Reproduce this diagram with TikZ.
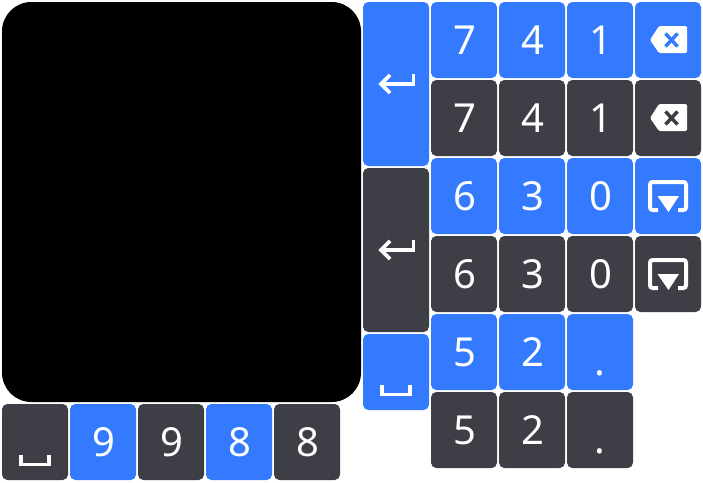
\documentclass[tikz,border=0pt]{standalone}
\usepackage{fontspec}
\setmainfont{Noto Sans}
\definecolor{keyblue}{HTML}{337AFF}
\definecolor{keydark}{HTML}{3D3E46}
\tikzset{
  padkey/.style={minimum width=49.5pt,minimum height=57pt,inner sep=0pt,rounded corners=4pt,text=white,font=\fontsize{30}{30}\selectfont,text height=21.5pt,text depth=0pt,text width=49.5pt,align=center},
  pointkey/.style={padkey,text height=34.5pt},
  tallkey/.style={padkey,minimum height=123pt},
  pics/enterkey/.style={code={
    \draw[white,line width=2.7pt](17.5,-10.5)--(17.5,0)--(-15,0);
    \draw[white,line width=2.7pt](-6,-9)--(-15,0)--(-6,9);
  }},
  pics/spacekey/.style={code={
    \draw[white,line width=2.5pt](-14,13)--(-14,22.5)--(14,22.5)--(14,13);
  }},
  pics/delkey/.style={code={
    \fill[white,rounded corners=1pt](-18,0)--(-9,-14)--(19,-14)--(19,13)--(-9,13)--cycle;
    \draw[#1,line width=2.6pt](-2.5,-6.5)--(9.5,6.5);
    \draw[#1,line width=2.6pt](-2.5,6.5)--(9.5,-6.5);
  }},
  pics/hidekey/.style={code={
    \draw[white,line width=3pt,rounded corners=2pt](-10,14)--(-18,14)--(-18,-14)--(18,-14)--(18,14)--(10,14);
    \fill[white](-10.5,0)--(11,0)--(0.5,16)--cycle;
  }}
}
\begin{document}
\begin{tikzpicture}[x=0.75pt,y=-0.75pt]
\useasboundingbox(0,0)rectangle(703,482);
\node[fill=black,rounded corners=22pt,minimum width=269.25pt,minimum height=300pt,inner sep=0pt](screen)at(181.5,202){};
\foreach \name/\col/\cx/\cy/\lbl in {a/keyblue/464/40/7,b/keyblue/532/40/4,c/keyblue/600/40/1,
  d/keydark/464/118/7,e/keydark/532/118/4,f/keydark/600/118/1,
  g/keyblue/464/196/6,h/keyblue/532/196/3,i/keyblue/600/196/0,
  j/keydark/464/274/6,k/keydark/532/274/3,l/keydark/600/274/0,
  m/keyblue/464/352/5,n/keyblue/532/352/2,
  o/keydark/464/430/5,p/keydark/532/430/2,
  q/keyblue/103/442/9,r/keydark/171/442/9,s/keyblue/239/442/8,t/keydark/307/442/8}
  \node[padkey,fill=\col](key\name)at(\cx,\cy){\hspace{1pt}\lbl};
% the two keys with a point
\node[pointkey,fill=keyblue](pointa)at(600,352){.};
\node[pointkey,fill=keydark](pointb)at(600,430){.};
% keys with a symbol
\node[tallkey,fill=keyblue](entera)at(396,84){};
\node[tallkey,fill=keydark](enterb)at(396,250){};
\node[padkey,fill=keyblue](spacea)at(396,372){};
\node[padkey,fill=keydark](spaceb)at(35,442){};
\node[padkey,fill=keyblue](dela)at(668,40){};
\node[padkey,fill=keydark](delb)at(668,118){};
\node[padkey,fill=keyblue](hidea)at(668,196){};
\node[padkey,fill=keydark](hideb)at(668,274){};
\pic at(entera){enterkey};
\pic at(enterb){enterkey};
\pic at(spacea){spacekey};
\pic at(spaceb){spacekey};
\pic at(dela){delkey=keyblue};
\pic at(delb){delkey=keydark};
\pic at(hidea){hidekey};
\pic at(hideb){hidekey};
\end{tikzpicture}
\end{document}
